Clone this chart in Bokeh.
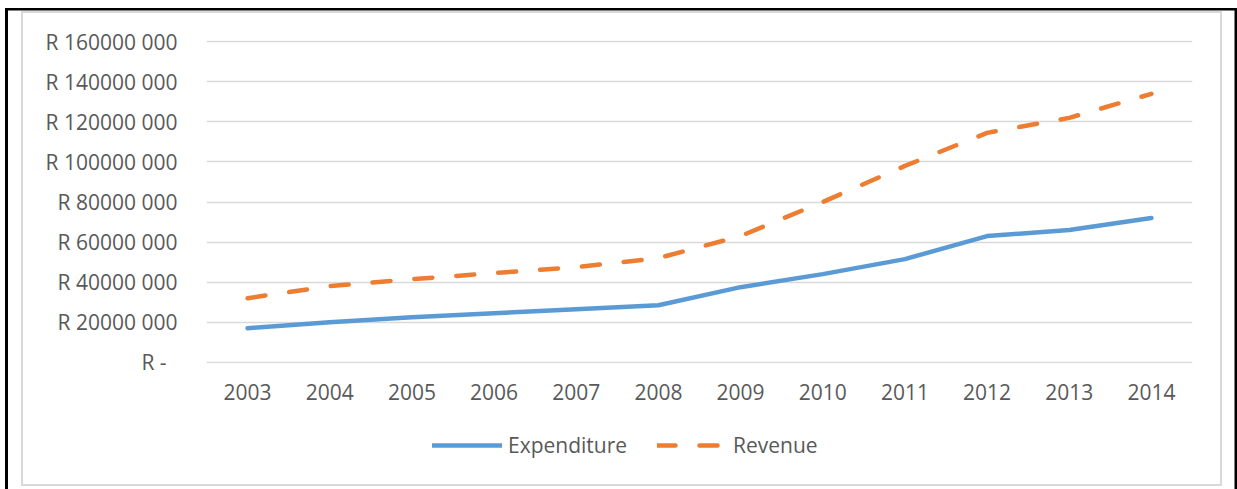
from bokeh.plotting import figure
from bokeh.layouts import column
from bokeh.models import (ColumnDataSource, FixedTicker, Legend, LegendItem,
                          Range1d, FactorRange)
from bokeh.embed import file_html
from bokeh.resources import INLINE

years = ["2003", "2004", "2005", "2006", "2007", "2008",
         "2009", "2010", "2011", "2012", "2013", "2014"]
expenditure = [17.0e6, 20.0e6, 22.5e6, 24.5e6, 26.5e6, 28.5e6,
               37.5e6, 44.0e6, 51.5e6, 63.0e6, 66.0e6, 72.0e6]
revenue = [32.0e6, 38.0e6, 41.5e6, 44.5e6, 47.5e6, 52.0e6,
           63.0e6, 80.0e6, 98.0e6, 114.5e6, 122.0e6, 134.0e6]
y_ticks = [0, 20e6, 40e6, 60e6, 80e6, 100e6, 120e6, 140e6, 160e6]
y_tick_labels = ["R -\u00a0\u00a0", "R 20000 000", "R 40000 000", "R 60000 000",
                 "R 80000 000", "R 100000 000", "R 120000 000", "R 140000 000",
                 "R 160000 000"]
series_names = ["Expenditure", "Revenue"]

FONT = "Open Sans"
TXT = "#595959"
BLUE = "#5B9BD5"
ORANGE = "#ED7D31"
exp_style = dict(line_color=BLUE, line_width=4.5, line_cap="round", line_join="round")
rev_style = dict(line_color=ORANGE, line_width=4.5, line_cap="round", line_join="round",
                 line_dash="18 24")

src = ColumnDataSource(dict(year=years, expenditure=expenditure, revenue=revenue))

# ---- main chart ----
p = figure(width=1197, height=400,
           x_range=FactorRange(*years, range_padding=0),
           y_range=Range1d(-0.6e6, 160.6e6),
           output_backend="svg", toolbar_location=None,
           min_border_left=183, min_border_right=28,
           min_border_top=27, min_border_bottom=50)

p.background_fill_color = "white"
p.border_fill_color = "white"
p.outline_line_color = None

p.xgrid.visible = False
p.ygrid.grid_line_color = "#d9d9d9"
p.ygrid.grid_line_width = 1.5

p.yaxis.ticker = FixedTicker(ticks=y_ticks)
p.yaxis.major_label_overrides = {t: l for t, l in zip(y_ticks, y_tick_labels)}

for ax in (p.xaxis[0], p.yaxis[0]):
    ax.axis_line_color = None
    ax.major_tick_line_color = None
    ax.minor_tick_line_color = None
    ax.major_tick_out = 0
    ax.major_tick_in = 0
    ax.major_label_text_font = FONT
    ax.major_label_text_font_size = "21px"
    ax.major_label_text_color = TXT
p.yaxis.major_label_standoff = 29
p.xaxis.major_label_standoff = 20

p.line(x="year", y="expenditure", source=src, **exp_style)
p.line(x="year", y="revenue", source=src, **rev_style)

# ---- legend strip (same series, drawn out of its view; only the legend shows) ----
pl = figure(width=1197, height=71, x_range=p.x_range, y_range=Range1d(1e12, 2e12),
            output_backend="svg", toolbar_location=None,
            x_axis_type=None, y_axis_type=None,
            min_border_left=183, min_border_right=28, min_border_top=0, min_border_bottom=0)
pl.outline_line_color = None
pl.grid.visible = False
pl.background_fill_color = "white"
pl.border_fill_color = "white"
d1 = pl.line(x="year", y="expenditure", source=src, **exp_style)
d2 = pl.line(x="year", y="revenue", source=src, **rev_style)

legend = Legend(items=[LegendItem(label=series_names[0], renderers=[d1]),
                       LegendItem(label=series_names[1], renderers=[d2])],
                orientation="horizontal", location=(226, 25),
                glyph_width=70, glyph_height=20, label_standoff=6, spacing=30,
                padding=0, margin=0, border_line_color=None,
                background_fill_alpha=0,
                label_text_font=FONT, label_text_font_size="21px",
                label_text_color=TXT)
pl.add_layout(legend, "center")

frame_style = {
    "box-shadow": ("0 0 0 2px #d9d9d9, "
                   "-0.25px 12.25px 0 14.75px #ffffff, "
                   "-0.5px 12.5px 0 17.5px #000000"),
}
layout = column(p, pl, spacing=0, margin=(13, 0, 0, 23), styles=frame_style)

open("out.html", "w").write(file_html(layout, INLINE))
